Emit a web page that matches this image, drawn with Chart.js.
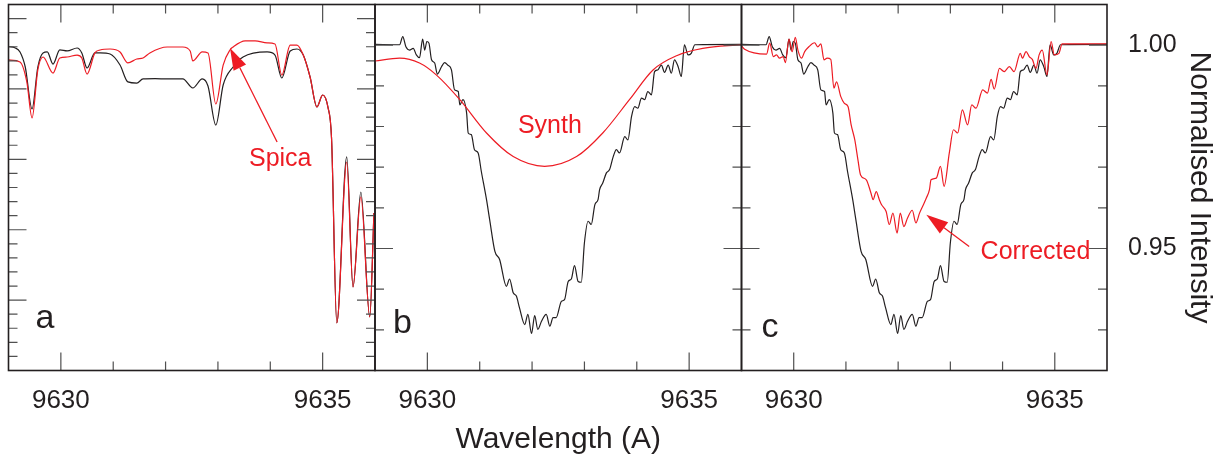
<!DOCTYPE html>
<html>
<head>
<meta charset="utf-8">
<title>Normalised intensity, 9629-9636 A</title>
<script src="https://cdn.jsdelivr.net/npm/chart.js@4.4.1/dist/chart.umd.min.js"></script>
<style>
  body { margin: 0; background: #ffffff; }
  #figure { position: relative; width: 1227px; height: 455px; }
  #figure canvas { position: absolute; left: 0; top: 0; }
</style>
</head>
<body>
<div id="figure">
  <canvas id="panelA" width="1227" height="455"></canvas>
  <canvas id="panelB" width="1227" height="455"></canvas>
  <canvas id="panelC" width="1227" height="455"></canvas>
</div>
<script>

// Panel a: programme star (black) and Spica (red), wider intensity range
const waveStarA = [9629.01, 9629.12, 9629.22, 9629.32, 9629.45, 9629.56, 9629.66, 9629.74, 9629.85, 9629.98, 9630.12, 9630.31, 9630.40, 9630.50, 9630.65, 9630.75, 9630.94, 9631.13, 9631.28, 9631.45, 9631.57, 9631.80, 9632.03, 9632.33, 9632.52, 9632.70, 9632.81, 9632.96, 9633.10, 9633.29, 9633.48, 9633.94, 9634.09, 9634.22, 9634.38, 9634.51, 9634.63, 9634.76, 9634.89, 9635.00, 9635.10, 9635.17, 9635.27, 9635.46, 9635.58, 9635.73, 9635.90, 9635.98];
const fluxStarA = [0.9800, 0.9793, 0.9763, 0.9656, 0.9358, 0.9656, 0.9756, 0.9763, 0.9677, 0.9777, 0.9770, 0.9791, 0.9756, 0.9649, 0.9756, 0.9756, 0.9748, 0.9670, 0.9550, 0.9542, 0.9571, 0.9573, 0.9571, 0.9571, 0.9507, 0.9571, 0.9521, 0.9244, 0.9528, 0.9656, 0.9727, 0.9763, 0.9741, 0.9578, 0.9770, 0.9784, 0.9741, 0.9585, 0.9372, 0.9457, 0.9372, 0.9150, 0.7838, 0.9017, 0.8094, 0.8768, 0.7881, 0.8619];

const waveSpicaA = [9629.01, 9629.22, 9629.35, 9629.45, 9629.56, 9629.66, 9629.85, 9629.98, 9630.12, 9630.31, 9630.40, 9630.50, 9630.65, 9630.75, 9630.94, 9631.13, 9631.28, 9631.45, 9631.57, 9631.70, 9632.03, 9632.33, 9632.47, 9632.52, 9632.70, 9632.81, 9632.96, 9633.10, 9633.23, 9633.29, 9633.52, 9633.71, 9633.94, 9634.09, 9634.22, 9634.38, 9634.51, 9634.63, 9634.76, 9634.89, 9635.00, 9635.10, 9635.17, 9635.27, 9635.46, 9635.58, 9635.73, 9635.90, 9635.98];
const fluxSpicaA = [0.9706, 0.9692, 0.9550, 0.9294, 0.9635, 0.9727, 0.9613, 0.9720, 0.9727, 0.9741, 0.9720, 0.9606, 0.9756, 0.9777, 0.9784, 0.9763, 0.9685, 0.9713, 0.9720, 0.9756, 0.9798, 0.9798, 0.9770, 0.9699, 0.9763, 0.9756, 0.9393, 0.9670, 0.9777, 0.9798, 0.9841, 0.9841, 0.9827, 0.9819, 0.9599, 0.9812, 0.9812, 0.9741, 0.9585, 0.9372, 0.9457, 0.9372, 0.9150, 0.7838, 0.8981, 0.8094, 0.8733, 0.7881, 0.8619];

// Panels b and c: observed line profile (black, same in both)
const waveObs = [9629.00, 9629.47, 9629.53, 9629.59, 9629.66, 9629.73, 9629.79, 9629.85, 9629.91, 9629.95, 9629.99, 9630.03, 9630.08, 9630.14, 9630.19, 9630.27, 9630.33, 9630.39, 9630.46, 9630.52, 9630.59, 9630.62, 9630.68, 9630.75, 9630.78, 9630.84, 9630.90, 9630.97, 9631.03, 9631.13, 9631.19, 9631.29, 9631.38, 9631.51, 9631.57, 9631.64, 9631.70, 9631.76, 9631.86, 9631.92, 9631.99, 9632.05, 9632.11, 9632.18, 9632.27, 9632.34, 9632.40, 9632.46, 9632.56, 9632.62, 9632.69, 9632.75, 9632.81, 9632.88, 9632.94, 9633.00, 9633.07, 9633.13, 9633.20, 9633.26, 9633.29, 9633.35, 9633.42, 9633.48, 9633.55, 9633.61, 9633.67, 9633.77, 9633.83, 9633.90, 9633.96, 9634.02, 9634.09, 9634.15, 9634.21, 9634.28, 9634.34, 9634.40, 9634.47, 9634.53, 9634.60, 9634.66, 9634.72, 9634.79, 9634.85, 9634.91, 9634.98, 9635.04, 9635.11, 9636.00];
const fluxObs = [1.0002, 1.0001, 1.0021, 0.9996, 0.9988, 0.9992, 0.9976, 0.9969, 1.0015, 0.9988, 1.0009, 1.0005, 0.9964, 0.9956, 0.9929, 0.9947, 0.9957, 0.9951, 0.9939, 0.9890, 0.9886, 0.9853, 0.9866, 0.9833, 0.9784, 0.9780, 0.9743, 0.9735, 0.9690, 0.9620, 0.9571, 0.9493, 0.9473, 0.9407, 0.9425, 0.9391, 0.9383, 0.9354, 0.9313, 0.9338, 0.9291, 0.9335, 0.9301, 0.9321, 0.9338, 0.9309, 0.9330, 0.9330, 0.9370, 0.9374, 0.9419, 0.9425, 0.9458, 0.9419, 0.9417, 0.9514, 0.9567, 0.9559, 0.9608, 0.9620, 0.9645, 0.9661, 0.9686, 0.9694, 0.9726, 0.9743, 0.9735, 0.9775, 0.9767, 0.9825, 0.9849, 0.9845, 0.9870, 0.9866, 0.9886, 0.9878, 0.9935, 0.9939, 0.9951, 0.9933, 0.9951, 0.9931, 0.9964, 0.9947, 0.9923, 1.0001, 0.9976, 0.9980, 1.0001, 1.0002];

// Panel b: synthetic profile (red)
const waveSynth = [9629.00, 9629.47, 9629.85, 9630.17, 9630.62, 9631.13, 9631.64, 9632.24, 9632.85, 9633.35, 9633.86, 9634.31, 9634.76, 9635.26, 9636.00];
const fluxSynth = [0.9961, 0.9968, 0.9956, 0.9927, 0.9866, 0.9784, 0.9726, 0.9702, 0.9726, 0.9784, 0.9866, 0.9939, 0.9974, 0.9992, 1.0001];

// Panel c: corrected profile (red)
const waveCorr = [9629.00, 9629.06, 9629.48, 9629.54, 9629.61, 9629.67, 9629.73, 9629.80, 9629.84, 9629.91, 9629.97, 9630.03, 9630.08, 9630.15, 9630.21, 9630.29, 9630.40, 9630.46, 9630.52, 9630.58, 9630.64, 9630.71, 9630.77, 9630.82, 9630.90, 9630.97, 9631.04, 9631.10, 9631.17, 9631.23, 9631.28, 9631.39, 9631.48, 9631.52, 9631.58, 9631.64, 9631.68, 9631.77, 9631.83, 9631.90, 9631.98, 9632.04, 9632.11, 9632.18, 9632.27, 9632.34, 9632.41, 9632.47, 9632.54, 9632.60, 9632.63, 9632.73, 9632.81, 9632.88, 9632.98, 9633.06, 9633.14, 9633.23, 9633.33, 9633.41, 9633.49, 9633.62, 9633.71, 9633.78, 9633.84, 9633.94, 9634.03, 9634.13, 9634.22, 9634.34, 9634.38, 9634.45, 9634.51, 9634.57, 9634.64, 9634.70, 9634.76, 9634.85, 9634.93, 9634.99, 9635.08, 9635.14, 9636.00];
const fluxCorr = [0.9998, 0.9990, 0.9978, 1.0005, 0.9972, 0.9976, 0.9968, 0.9972, 0.9957, 1.0015, 0.9984, 1.0019, 0.9988, 0.9968, 0.9984, 0.9996, 1.0006, 0.9996, 1.0003, 0.9964, 0.9968, 0.9965, 0.9894, 0.9910, 0.9874, 0.9857, 0.9849, 0.9804, 0.9767, 0.9718, 0.9681, 0.9669, 0.9636, 0.9620, 0.9640, 0.9620, 0.9608, 0.9591, 0.9559, 0.9587, 0.9538, 0.9587, 0.9554, 0.9575, 0.9594, 0.9563, 0.9587, 0.9604, 0.9624, 0.9645, 0.9669, 0.9673, 0.9702, 0.9653, 0.9735, 0.9792, 0.9784, 0.9841, 0.9804, 0.9853, 0.9845, 0.9890, 0.9882, 0.9916, 0.9892, 0.9943, 0.9935, 0.9947, 0.9935, 0.9980, 0.9968, 0.9984, 0.9972, 0.9965, 0.9943, 0.9976, 0.9988, 0.9927, 1.0009, 0.9976, 0.9980, 1.0003, 1.0003];

// Tick labels
const xTickLabels = [9630, 9635];
const yTickLabels = [1.00, 0.95];

// Colours
const inkBlack = '#231f20';
const inkRed = '#ed1c24';
const fontFamily = "'Liberation Sans', Arial, Helvetica, sans-serif";

Chart.defaults.font.family = fontFamily;
Chart.defaults.color = inkBlack;


// Panel definitions
const panels = [
  {
    canvasId: 'panelA',
    padLeft: 8.5, padRight: 1227 - 375,
    yMin: 0.75, yMax: 1.01,
    letter: ['a', 27, -42.5],
    // wavelengths, fluxes, colour (first is drawn on top)
    lines: [
      [waveSpicaA, fluxSpicaA, inkRed],
      [waveStarA, fluxStarA, inkBlack]
    ],
    labels: [['Spica', 9634.19, 0.9003]],
    arrows: [[9634.13, 0.9123, 9633.23, 0.9791]]
  },
  {
    canvasId: 'panelB',
    padLeft: 375, padRight: 1227 - 741.5,
    yMin: 0.92, yMax: 1.01,
    letter: ['b', 18, -37.5],
    lines: [
      [waveSynth, fluxSynth, inkRed],
      [waveObs, fluxObs, inkBlack]
    ],
    labels: [['Synth', 9632.34, 0.9802]],
    arrows: [],
    xTitle: 'Wavelength (A)'
  },
  {
    canvasId: 'panelC',
    padLeft: 741.5, padRight: 0,
    yMin: 0.92, yMax: 1.01,
    letter: ['c', 20, -33.5],
    lines: [
      [waveCorr, fluxCorr, inkRed],
      [waveObs, fluxObs, inkBlack]
    ],
    labels: [['Corrected', 9634.63, 0.9490]],
    arrows: [[9633.36, 0.9505, 9632.54, 0.9583]],
    yTitle: 'Normalised Intensity'
  }
];


// List of inward tick positions between the two edges of a scale
function tickList(min, max, step, majorEvery) {
  const ticks = [];
  const count = Math.round((max - min) / step);
  for (let i = 1; i < count; i++) {
    const value = min + i * step;
    ticks.push({value: value, major: Math.round(value / step) % majorEvery === 0});
  }
  return ticks;
}


// Frame round each panel, with inward ticks on all four sides
const panelFrame = {
  id: 'panelFrame',
  afterDatasetsDraw: function (chart) {
    const ctx = chart.ctx;
    const area = chart.chartArea;
    const xScale = chart.scales.x;
    const yScale = chart.scales.y;

    ctx.save();
    ctx.strokeStyle = '#505050';
    ctx.lineWidth = 1.2;
    ctx.beginPath();
    tickList(xScale.min, xScale.max, 1, 5).forEach(function (tick) {
      const px = xScale.getPixelForValue(tick.value);
      const len = tick.major ? 18 : 9;
      ctx.moveTo(px, area.bottom); ctx.lineTo(px, area.bottom - len);
      ctx.moveTo(px, area.top); ctx.lineTo(px, area.top + len);
    });
    tickList(yScale.min, yScale.max, 0.01, 5).forEach(function (tick) {
      const py = yScale.getPixelForValue(tick.value);
      const len = tick.major ? 18 : 9;
      ctx.moveTo(area.left, py); ctx.lineTo(area.left + len, py);
      ctx.moveTo(area.right, py); ctx.lineTo(area.right - len, py);
    });
    ctx.stroke();

    ctx.strokeStyle = inkBlack;
    ctx.lineWidth = 1.6;
    ctx.strokeRect(area.left, area.top, area.right - area.left, area.bottom - area.top);
    ctx.restore();
  }
};


// Arrow with a filled head at the second point
function drawArrow(ctx, x1, y1, x2, y2) {
  const angle = Math.atan2(y2 - y1, x2 - x1);
  const headLength = 22;
  const headHalf = 7;
  const bx = x2 - headLength * Math.cos(angle);
  const by = y2 - headLength * Math.sin(angle);
  ctx.beginPath();
  ctx.moveTo(x1, y1);
  ctx.lineTo(bx, by);
  ctx.stroke();
  ctx.beginPath();
  ctx.moveTo(x2, y2);
  ctx.lineTo(bx + headHalf * Math.sin(angle), by - headHalf * Math.cos(angle));
  ctx.lineTo(bx - headHalf * Math.sin(angle), by + headHalf * Math.cos(angle));
  ctx.closePath();
  ctx.fill();
}


// Labels, arrows and panel letter, placed through the panel's scales
const panelNotes = {
  id: 'panelNotes',
  afterDatasetsDraw: function (chart, args, opts) {
    const ctx = chart.ctx;
    const xScale = chart.scales.x;
    const yScale = chart.scales.y;
    const area = chart.chartArea;

    ctx.save();
    ctx.strokeStyle = inkRed;
    ctx.fillStyle = inkRed;
    ctx.lineWidth = 1.3;
    opts.arrows.forEach(function (arrow) {
      drawArrow(ctx,
        xScale.getPixelForValue(arrow[0]), yScale.getPixelForValue(arrow[1]),
        xScale.getPixelForValue(arrow[2]), yScale.getPixelForValue(arrow[3]));
    });

    ctx.font = '25px ' + fontFamily;
    ctx.textAlign = 'center';
    ctx.textBaseline = 'middle';
    opts.labels.forEach(function (label) {
      ctx.fillText(label[0], xScale.getPixelForValue(label[1]), yScale.getPixelForValue(label[2]));
    });

    // Panel letter, offset from the bottom-left corner
    ctx.fillStyle = inkBlack;
    ctx.font = '34px ' + fontFamily;
    ctx.textAlign = 'left';
    ctx.textBaseline = 'alphabetic';
    ctx.fillText(opts.letter[0], area.left + opts.letter[1], area.bottom + opts.letter[2]);
    ctx.restore();
  }
};


// Fix the size of an axis box and drop its automatic padding
function fixScale(size) {
  return function (scale) {
    scale.paddingLeft = 0;
    scale.paddingRight = 0;
    scale.paddingTop = 0;
    scale.paddingBottom = 0;
    if (size !== null) {
      if (scale.isHorizontal()) {
        scale.height = size;
      } else {
        scale.width = size;
      }
    }
  };
}


// Function to create a panel chart
function createPanel(panel) {

  // Assemble the datasets
  const datasets = panel.lines.map(function (line) {
    return {
      data: line[0].map((wave, i) => ({x: wave, y: line[1][i]})),
      borderColor: line[2],
      borderWidth: 1.2,
      pointRadius: 0,
      cubicInterpolationMode: 'monotone',
      fill: false
    };
  });

  return new Chart(document.getElementById(panel.canvasId).getContext('2d'), {
    type: 'line',
    data: {datasets: datasets},
    plugins: [panelFrame, panelNotes],
    options: {
      responsive: false,
      animation: false,
      devicePixelRatio: 1,
      events: [],
      layout: {
        autoPadding: false,
        padding: {left: panel.padLeft, right: panel.padRight, top: 4.5, bottom: 0}
      },
      scales: {
        x: {
          type: 'linear',
          min: 9629,
          max: 9636,
          grid: {display: false, drawTicks: false},
          border: {display: false},
          ticks: {
            stepSize: 1,
            autoSkip: false,
            maxRotation: 0,
            padding: 15,
            color: inkBlack,
            font: {size: 26},
            callback: value => xTickLabels.includes(value) ? String(value) : null
          },
          title: {
            display: !!panel.xTitle,
            text: panel.xTitle || '',
            color: inkBlack,
            font: {size: 30, lineHeight: 1.0},
            padding: {top: 1, bottom: 0}
          },
          afterFit: fixScale(84.5)
        },
        y: {
          type: 'linear',
          position: 'right',
          display: !!panel.yTitle,
          min: panel.yMin,
          max: panel.yMax,
          grid: {display: false, drawTicks: false},
          border: {display: false},
          ticks: {
            stepSize: 0.01,
            autoSkip: false,
            padding: 21,
            color: inkBlack,
            font: {size: 25},
            callback: value => yTickLabels.some(t => Math.abs(t - value) < 1e-6) ? value.toFixed(2) : null
          },
          title: {
            display: !!panel.yTitle,
            text: panel.yTitle || '',
            color: inkBlack,
            font: {size: 30},
            padding: {top: 10, bottom: 0}
          },
          afterFit: fixScale(panel.yTitle ? 120 : null)
        }
      },
      plugins: {
        legend: {display: false},
        tooltip: {enabled: false},
        panelNotes: {labels: panel.labels, arrows: panel.arrows, letter: panel.letter}
      }
    }
  });
}


panels.forEach(createPanel);

</script>
</body>
</html>
